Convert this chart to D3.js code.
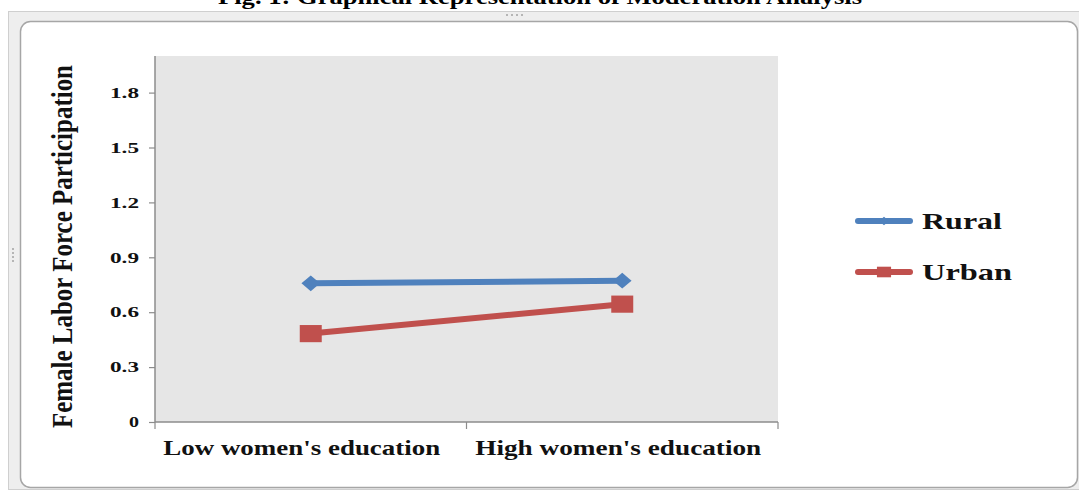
<!DOCTYPE html>
<html><head><meta charset="utf-8">
<script src="https://cdn.jsdelivr.net/npm/d3@7"></script>
<style>html,body{margin:0;padding:0;background:#fff;}svg{display:block;}</style>
</head><body>
<script>
const categories = ["Low women's education", "High women's education"];
const seriesNames = ["Rural", "Urban"];
const rural = [0.758, 0.772];
const urban = [0.483, 0.644];
const yTicks = [0, 0.3, 0.6, 0.9, 1.2, 1.5, 1.8];
const colors = ["#4f81bd", "#c0504d"];
const title = "Fig. 1: Graphical Representation of Moderation Analysis";
const yTitle = "Female Labor Force Participation";

const W = 1079, H = 491;
const svg = d3.select("body").append("svg").attr("width", W).attr("height", H);
const FONT = "'Liberation Serif','Times New Roman',serif";

// title (partially cut off at top)
svg.append("text").attr("x", 540).attr("y", 4).attr("text-anchor", "middle")
  .attr("font-family", FONT).attr("font-weight", "bold").attr("font-size", 21)
  .attr("textLength", 644).attr("lengthAdjust", "spacingAndGlyphs").text(title);

// chart frame
svg.append("rect").attr("x", 8.5).attr("y", 11.5).attr("width", 1080).attr("height", 478)
  .attr("fill", "#eeeeee").attr("stroke", "#cfcfcf");
svg.append("rect").attr("x", 20.5).attr("y", 21.5).attr("width", 1057).attr("height", 466).attr("rx", 10)
  .attr("fill", "#fff").attr("stroke", "#a6a6a6").attr("stroke-width", 1.5);
// resize handle dots
[506, 511, 516, 521].forEach(x => svg.append("rect").attr("x", x).attr("y", 14).attr("width", 2).attr("height", 2).attr("fill", "#b5b5b5"));
[248, 252, 256, 260].forEach(y => svg.append("rect").attr("x", 12).attr("y", y).attr("width", 2).attr("height", 2).attr("fill", "#b5b5b5"));

const x = d3.scaleBand().domain(categories).range([155, 778]);
const y = d3.scaleLinear().domain([0, 2]).range([422, 56]);

svg.append("rect").attr("x", 155).attr("y", y(2)).attr("width", 623).attr("height", y(0) - y(2)).attr("fill", "#e6e6e6");

// y axis
const yAxis = svg.append("g").attr("transform", "translate(155,0)")
  .call(d3.axisLeft(y).tickValues(yTicks).tickFormat(d => d === 0 ? "0" : d3.format(".1f")(d)).tickSize(6).tickPadding(10));
yAxis.select(".domain").attr("stroke", "#8c8c8c").attr("stroke-width", 1.5).attr("d", `M0,${y(2)}V${y(0)}`);
yAxis.selectAll(".tick line").attr("stroke", "#8c8c8c").attr("stroke-width", 1.2);
yAxis.selectAll(".tick text").attr("font-family", FONT).attr("font-weight", "bold").attr("font-size", 14)
  .attr("fill", "#111").attr("dy", "0.34em")
  .attr("textLength", d => d === 0 ? 10 : 29).attr("lengthAdjust", "spacingAndGlyphs");

// x axis
const xAxis = svg.append("g").attr("transform", `translate(0,${y(0)})`)
  .call(d3.axisBottom(x).tickSize(0).tickFormat(""));
xAxis.select(".domain").attr("stroke", "#8c8c8c").attr("stroke-width", 1.5).attr("d", "M155,0H778");
xAxis.selectAll(".tick").remove();
const bounds = [155, x(categories[1]), 778];
xAxis.selectAll("line.sep").data(bounds).enter().append("line")
  .attr("x1", d => d).attr("x2", d => d).attr("y1", 0).attr("y2", 7)
  .attr("stroke", "#8c8c8c").attr("stroke-width", 1.2);
const xLabelW = [277, 286];
const xLabelShift = [-9, -4];
xAxis.selectAll("text.lab").data(categories).enter().append("text")
  .attr("x", (d, i) => x(d) + x.bandwidth() / 2 + xLabelShift[i]).attr("y", 33)
  .attr("text-anchor", "middle").attr("font-family", FONT).attr("font-weight", "bold").attr("font-size", 21)
  .attr("fill", "#111").attr("textLength", (d, i) => xLabelW[i]).attr("lengthAdjust", "spacingAndGlyphs").text(d => d);

// y title
svg.append("text").attr("transform", "translate(72,246.5) rotate(-90)").attr("text-anchor", "middle")
  .attr("font-family", FONT).attr("font-weight", "bold").attr("font-size", 30).attr("fill", "#111")
  .attr("textLength", 363).attr("lengthAdjust", "spacingAndGlyphs").text(yTitle);

// series
const series = [rural, urban];
const cx = d => x(d) + x.bandwidth() / 2;
const line = d3.line().x((d, i) => cx(categories[i])).y(d => y(d));
series.forEach((vals, si) => {
  svg.append("path").datum(vals).attr("d", line).attr("fill", "none")
    .attr("stroke", colors[si]).attr("stroke-width", 6);
  svg.selectAll(null).data(vals).enter().append("path")
    .attr("transform", (d, i) => `translate(${cx(categories[i])},${y(d)}) scale(1,${si === 0 ? 0.85 : 0.78})`)
    .attr("d", si === 0 ? d3.symbol(d3.symbolDiamond2, 220)() : d3.symbol(d3.symbolSquare, 484)())
    .attr("fill", colors[si]);
});

// legend
const legY = [221, 272];
seriesNames.forEach((name, si) => {
  const g = svg.append("g").attr("transform", `translate(0,${legY[si]})`);
  g.append("line").attr("x1", 858).attr("x2", 910).attr("y1", 0).attr("y2", 0)
    .attr("stroke", colors[si]).attr("stroke-width", 6).attr("stroke-linecap", "round");
  g.append("path").attr("transform", `translate(884,0) scale(1,${si === 0 ? 0.9 : 0.75})`)
    .attr("d", si === 0 ? d3.symbol(d3.symbolDiamond2, 60)() : d3.symbol(d3.symbolSquare, 200)())
    .attr("fill", colors[si]);
  g.append("text").attr("x", 922).attr("y", 8).attr("font-family", FONT).attr("font-weight", "bold")
    .attr("font-size", 23).attr("fill", "#111")
    .attr("textLength", si === 0 ? 80 : 90).attr("lengthAdjust", "spacingAndGlyphs").text(name);
});
</script>
</body></html>
